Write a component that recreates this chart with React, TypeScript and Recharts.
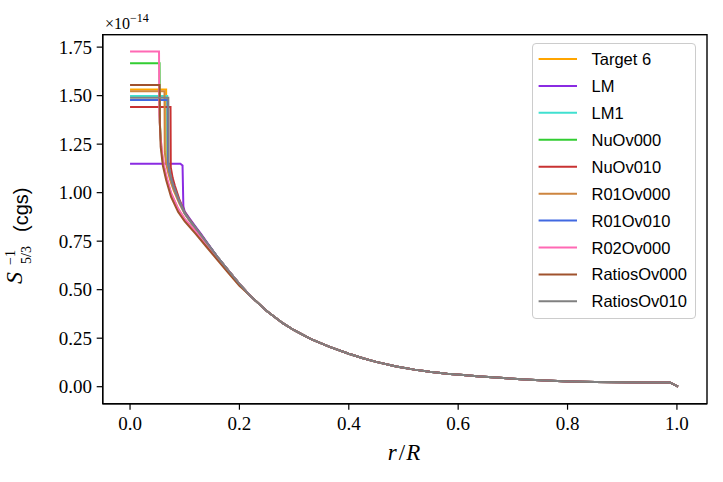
import React from "react";
import { LineChart, Line, XAxis, YAxis, Legend } from "recharts";

// ---- data (r/R, S^-1_{5/3} in units of 1e-14 cgs) ----
const SERIES_NAMES = ["Target 6", "LM", "LM1", "NuOv000", "NuOv010", "R01Ov000", "R01Ov010", "R02Ov000", "RatiosOv000", "RatiosOv010"];

const TARGET6_R = [0, 0.066, 0.0665, 0.07, 0.075, 0.08, 0.09, 0.1, 0.11, 0.12, 0.13, 0.14];
const TARGET6_V = [1.531, 1.531, 1.19, 1.13, 1.075, 1.03, 0.957, 0.895, 0.855, 0.818, 0.78, 0.742];

const LM_R = [0, 0.092, 0.096, 0.0975, 0.1, 0.11, 0.12, 0.13, 0.14];
const LM_V = [1.149, 1.149, 1.14, 0.93, 0.902, 0.862, 0.824, 0.786, 0.747];

const LM1_R = [0, 0.068, 0.0685, 0.072, 0.076, 0.08, 0.09, 0.1, 0.11, 0.12, 0.13, 0.14];
const LM1_V = [1.498, 1.498, 1.16, 1.11, 1.065, 1.03, 0.957, 0.895, 0.855, 0.818, 0.78, 0.742];

const NUOV000_R = [0, 0.054, 0.0545, 0.057, 0.06, 0.066, 0.075, 0.088, 0.1, 0.12, 0.14, 0.16];
const NUOV000_V = [1.667, 1.667, 1.36, 1.24, 1.16, 1.08, 0.995, 0.915, 0.862, 0.8, 0.732, 0.662];

const NUOV010_R = [0, 0.074, 0.0745, 0.078, 0.082, 0.09, 0.1, 0.11, 0.12, 0.13, 0.14];
const NUOV010_V = [1.442, 1.442, 1.13, 1.075, 1.035, 0.967, 0.9, 0.858, 0.82, 0.782, 0.744];

const R01OV000_R = [0, 0.063, 0.0635, 0.066, 0.07, 0.075, 0.08, 0.09, 0.1, 0.11, 0.12, 0.13, 0.14];
const R01OV000_V = [1.523, 1.523, 1.21, 1.15, 1.1, 1.05, 1.01, 0.945, 0.89, 0.85, 0.813, 0.776, 0.739];

const R01OV010_R = [0, 0.069, 0.0695, 0.072, 0.076, 0.08, 0.09, 0.1, 0.11, 0.12, 0.13, 0.14];
const R01OV010_V = [1.477, 1.477, 1.155, 1.11, 1.065, 1.03, 0.957, 0.895, 0.855, 0.818, 0.78, 0.742];

const R02OV000_R = [0, 0.053, 0.0535, 0.056, 0.059, 0.063, 0.067, 0.075, 0.088, 0.1, 0.12, 0.14, 0.16];
const R02OV000_V = [1.727, 1.727, 1.4, 1.28, 1.2, 1.13, 1.08, 1.0, 0.918, 0.865, 0.8, 0.733, 0.663];

const RATIOSOV000_R = [0, 0.054, 0.0545, 0.056, 0.06, 0.066, 0.075, 0.088, 0.1, 0.12, 0.14, 0.16, 0.18, 0.2];
const RATIOSOV000_V = [1.555, 1.555, 1.36, 1.237, 1.14, 1.065, 0.978, 0.9, 0.852, 0.788, 0.72, 0.652, 0.585, 0.52];

const RATIOSOV010_R = [0, 0.07, 0.0705, 0.073, 0.076, 0.08, 0.09, 0.1, 0.11, 0.12, 0.13, 0.14];
const RATIOSOV010_V = [1.489, 1.489, 1.15, 1.105, 1.065, 1.03, 0.957, 0.895, 0.855, 0.818, 0.78, 0.742];

// common envelope profile shared by all models
const TAIL_R = [0.16, 0.18, 0.2, 0.22, 0.25, 0.28, 0.3, 0.33, 0.365, 0.4, 0.426, 0.45, 0.487, 0.52, 0.548, 0.58, 0.609, 0.64, 0.67, 0.7, 0.731, 0.77, 0.804, 0.85, 0.9, 0.95, 0.987, 1.002];
const TAIL_V = [0.668, 0.598, 0.53, 0.468, 0.39, 0.326, 0.291, 0.246, 0.205, 0.17, 0.147, 0.128, 0.104, 0.088, 0.077, 0.067, 0.06, 0.053, 0.047, 0.041, 0.036, 0.031, 0.027, 0.024, 0.0225, 0.022, 0.022, 0.0];

const X_TICKS = [0, 0.2, 0.4, 0.6, 0.8, 1.0];
const Y_TICKS = [0, 0.25, 0.5, 0.75, 1.0, 1.25, 1.5, 1.75];

const HEADS_R = [TARGET6_R, LM_R, LM1_R, NUOV000_R, NUOV010_R, R01OV000_R, R01OV010_R, R02OV000_R, RATIOSOV000_R, RATIOSOV010_R];
const HEADS_V = [TARGET6_V, LM_V, LM1_V, NUOV000_V, NUOV010_V, R01OV000_V, R01OV010_V, R02OV000_V, RATIOSOV000_V, RATIOSOV010_V];

// ---- styles ----
const COLORS = ["#ffa500", "#8a2be2", "#40e0d0", "#32cd32", "#c83232", "#cd853f", "#4169e1", "#ff69b4", "#a0522d", "#808080"];
const SERIF = "'Liberation Serif', 'DejaVu Serif', serif";
const SANS = "'Liberation Sans', 'DejaVu Sans', sans-serif";
const PLOT = { left: 102.7, top: 34.7, right: 707, bottom: 403.7 };

function buildSeries(hr: number[], hv: number[]) {
  const pts = hr.map((r, i) => ({ r, v: hv[i] }));
  const last = hr[hr.length - 1];
  TAIL_R.forEach((r, j) => {
    if (r > last) pts.push({ r, v: TAIL_V[j] });
  });
  return pts;
}

const SERIES = SERIES_NAMES.map((name, i) => ({
  name,
  color: COLORS[i],
  data: buildSeries(HEADS_R[i], HEADS_V[i]),
}));

const XTick = (props: any) => {
  const { x, payload } = props;
  return (
    <text x={x} y={430} textAnchor="middle" fontFamily={SERIF} fontSize={19} fill="#000">
      {Number(payload.value).toFixed(1)}
    </text>
  );
};

const YTick = (props: any) => {
  const { y, payload } = props;
  return (
    <text x={92} y={y + 6.5} textAnchor="end" fontFamily={SERIF} fontSize={19} fill="#000">
      {Number(payload.value).toFixed(2)}
    </text>
  );
};

const LegendBox = () => {
  const rowH = 26.93;
  return (
    <div
      style={{
        width: 164,
        height: 276,
        boxSizing: "border-box",
        border: "1px solid #cccccc",
        borderRadius: 4,
        background: "rgba(255,255,255,0.85)",
        position: "relative",
      }}
    >
      <svg width={164} height={276} style={{ position: "absolute", left: -1, top: -1 }}>
        {SERIES.map((s, i) => {
          const cy = 16 + i * rowH;
          return (
            <g key={s.name}>
              <line x1={6.6} x2={45} y1={cy} y2={cy} stroke={s.color} strokeWidth={2} />
              <text x={59.5} y={cy + 6} fontFamily={SANS} fontSize={16.5} fill="#000">
                {s.name}
              </text>
            </g>
          );
        })}
      </svg>
    </div>
  );
};

export default function App() {
  return (
    <div style={{ position: "absolute", left: 0, top: 0, width: 723, height: 482, background: "#fff" }}>
      <LineChart width={723} height={482} margin={{ top: 34.7, right: 16, bottom: 48.3, left: 0 }}>
        <XAxis
          dataKey="r"
          type="number"
          domain={[-0.05, 1.055]}
          ticks={X_TICKS}
          allowDataOverflow
          height={30}
          axisLine={{ stroke: "#000", strokeWidth: 1.4 }}
          tickLine={{ stroke: "#000", strokeWidth: 1.2 }}
          tickSize={6}
          tick={<XTick />}
          interval={0}
        />
        <YAxis
          type="number"
          domain={[-0.0876, 1.814]}
          ticks={Y_TICKS}
          allowDataOverflow
          width={102.7}
          axisLine={{ stroke: "#000", strokeWidth: 1.4 }}
          tickLine={{ stroke: "#000", strokeWidth: 1.2 }}
          tickSize={6}
          tick={<YTick />}
          interval={0}
        />
        {SERIES.map((s) => (
          <Line
            key={s.name}
            data={s.data}
            dataKey="v"
            name={s.name}
            type="linear"
            stroke={s.color}
            strokeWidth={2}
            dot={false}
            activeDot={false}
            isAnimationActive={false}
          />
        ))}
        <Legend
          layout="vertical"
          align="center"
          verticalAlign="middle"
          wrapperStyle={{ position: "absolute", left: 531.7, top: 43.3, width: 164, height: 276 }}
          content={() => <LegendBox />}
        />
      </LineChart>
      <svg width={723} height={482} style={{ position: "absolute", left: 0, top: 0, pointerEvents: "none" }}>
        {/* axes frame */}
        <rect
          x={PLOT.left}
          y={PLOT.top}
          width={PLOT.right - PLOT.left}
          height={PLOT.bottom - PLOT.top}
          fill="none"
          stroke="#000"
          strokeWidth={1.4}
        />
        {/* offset multiplier */}
        <text x={105} y={29} fontFamily={SERIF} fontSize={16} fill="#000">
          ×10
          <tspan fontSize={12} dy={-7}>−14</tspan>
        </text>
        {/* x label */}
        <text x={404} y={460} textAnchor="middle" fontFamily={SERIF} fontSize={23} fill="#000">
          <tspan fontStyle="italic">r</tspan>
          <tspan dx={2}>/</tspan>
          <tspan dx={1} fontStyle="italic">R</tspan>
        </text>
        {/* y label (rotated) */}
        <text x={22} y={284} transform="rotate(-90 22 284)" fontFamily={SERIF} fontStyle="italic" fontSize={24} fill="#000">S</text>
        <text x={15} y={265} transform="rotate(-90 15 265)" fontFamily={SERIF} fontSize={14} fill="#000">−1</text>
        <text x={31} y={264} transform="rotate(-90 31 264)" fontFamily={SERIF} fontSize={14} fill="#000">5/3</text>
        <text x={28} y={232} transform="rotate(-90 28 232)" fontFamily={SANS} fontSize={20} fill="#000">(cgs)</text>
      </svg>
    </div>
  );
}
